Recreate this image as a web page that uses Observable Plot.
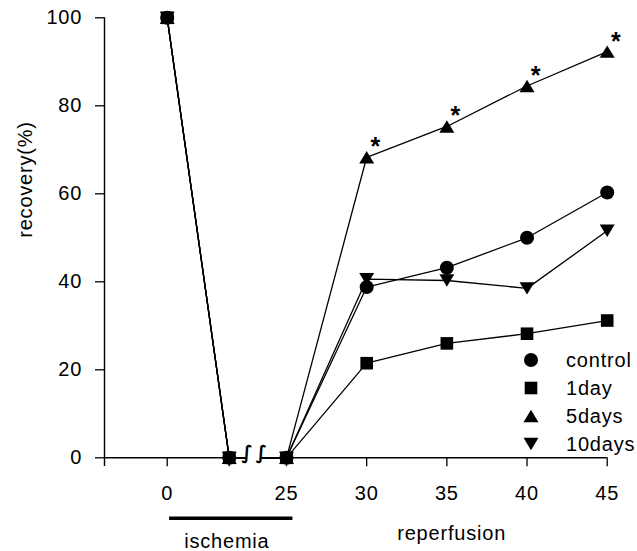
<!DOCTYPE html>
<html><head><meta charset="utf-8">
<script src="https://cdn.jsdelivr.net/npm/d3@7"></script>
<script src="https://cdn.jsdelivr.net/npm/@observablehq/plot@0.6"></script>
<style>
body{margin:0;background:#fff;}
#wrap{position:relative;width:637px;height:551px;font-family:"Liberation Sans",Arial,sans-serif;color:#000;}
#wrap svg text{letter-spacing:0.8px;}
#legend{position:absolute;left:520.5px;top:346px;}
.row{display:flex;align-items:center;height:28.1px;font-size:20px;letter-spacing:0.8px;}
.row svg{width:20px;height:20px;margin-right:25.5px;overflow:visible;}
</style></head>
<body><div id="wrap"></div>
<script>
// ---- data ----
const times = [0, 13, 25, 30, 35, 40, 45];
const xTickLabels = ["0", "", "25", "30", "35", "40", "45"];
const yTicks = [0, 20, 40, 60, 80, 100];
const seriesNames = ["control", "1day", "5days", "10days"];
const control = [100, 0, 0, 38.8, 43.2, 50, 60.3];
const oneDay = [100, 0, 0, 21.5, 26, 28.2, 31.2];
const fiveDays = [100, 0, 0, 68.3, 75.3, 84.5, 92.3];
const tenDays = [100, 0, 0, 40.6, 40.3, 38.5, 51.6];
const significantTimes = [30, 35, 40, 45];
const breakMarks = [16.8, 19.8];
const ischemiaSpan = [0.5, 25.4];
const ischemiaLabel = "ischemia";
const reperfusionLabel = "reperfusion";
const yLabel = "recovery(%)";

// ---- symbols ----
const rad = (size) => Math.sqrt(size / Math.PI);
const symbols = {
  control: {draw(ctx, size) { const r = rad(size); ctx.moveTo(r, 0); ctx.arc(0, 0, r, 0, 2 * Math.PI); }},
  "1day": {draw(ctx, size) { const h = rad(size) * 0.9; ctx.rect(-h, -h, 2 * h, 2 * h); }},
  "5days": {draw(ctx, size) { const r = rad(size), w = r * 1.07, h = r * 0.88; ctx.moveTo(0, -h); ctx.lineTo(w, h); ctx.lineTo(-w, h); ctx.closePath(); }},
  "10days": {draw(ctx, size) { const r = rad(size), w = r * 1.07, h = r * 0.88; ctx.moveTo(0, h); ctx.lineTo(w, -h); ctx.lineTo(-w, -h); ctx.closePath(); }}
};

const valuesBySeries = {control, "1day": oneDay, "5days": fiveDays, "10days": tenDays};
const rowsFor = (name) => times.map((t, i) => ({time: t, value: valuesBySeries[name][i], series: name}));

const xMin = -13.15;
const yAxisFloor = -2;
const R = 7;

const marks = [];
// axis lines
marks.push(Plot.ruleY([0], {x1: () => xMin, x2: () => 45, stroke: "black", strokeWidth: 1.4}));
marks.push(Plot.ruleX([xMin], {y1: () => yAxisFloor, y2: () => 100, stroke: "black", strokeWidth: 1.4}));
// series lines
for (const name of seriesNames) {
  marks.push(Plot.line(rowsFor(name), {x: "time", y: "value", stroke: "black", strokeWidth: 1.3}));
}
// axis break gap and marks
marks.push(Plot.ruleY([0], {x1: () => breakMarks[0], x2: () => breakMarks[1], stroke: "white", strokeWidth: 5}));
marks.push(Plot.text(breakMarks, {x: d => d, y: () => 0, text: () => "∫", fontFamily: "DejaVu Sans", fontSize: 19, fontWeight: "bold", lineAnchor: "middle", dy: -5, fill: "black"}));
// dots
for (const name of seriesNames) {
  marks.push(Plot.dot(rowsFor(name), {x: "time", y: "value", r: R, symbol: symbols[name], fill: "black", stroke: "none"}));
}
// asterisks
marks.push(Plot.text(rowsFor("5days").filter(d => significantTimes.includes(d.time)), {
  x: "time", y: "value", text: () => "*", dx: 9, dy: -2, lineAnchor: "bottom", fontSize: 25, fontWeight: "bold"
}));
// axes
marks.push(Plot.axisY({ticks: yTicks, tickSize: 9, tickPadding: 13.3, fontSize: 20, label: null, strokeWidth: 1.3}));
marks.push(Plot.axisX({ticks: times, tickFormat: d => xTickLabels[times.indexOf(d)], tickSize: 9, tickPadding: 18.7, fontSize: 20, label: null, strokeWidth: 1.3}));
// y label
marks.push(Plot.text([yLabel], {frameAnchor: "left", text: d => d, rotate: -90, dx: -79, fontSize: 20, lineAnchor: "middle"}));
// ischemia bar + labels
marks.push(Plot.ruleY([0], {x1: () => ischemiaSpan[0], x2: () => ischemiaSpan[1], dy: 60.4, stroke: "black", strokeWidth: 3.5}));
marks.push(Plot.text([ischemiaLabel], {x: () => (0 + 25) / 2, y: () => 0, text: d => d, dy: 83.9, fontSize: 20, lineAnchor: "middle"}));
marks.push(Plot.text([reperfusionLabel], {x: () => 35.3, y: () => 0, text: d => d, dy: 75.9, fontSize: 20, lineAnchor: "middle"}));

const chart = Plot.plot({
  width: 637,
  height: 551,
  marginLeft: 104,
  marginRight: 30.3,
  marginTop: 17.3,
  marginBottom: 93.7,
  style: {fontFamily: "Liberation Sans, Arial, sans-serif", background: "white", color: "black", overflow: "visible"},
  x: {type: "linear", domain: [xMin, 0, 25, 45], range: [104, 166.7, 286, 606.7]},
  y: {domain: [0, 100], range: [457.3, 17.3]},
  marks
});
const wrap = document.getElementById("wrap");
wrap.appendChild(chart);

// legend
const legend = document.createElement("div");
legend.id = "legend";
for (const name of seriesNames) {
  const row = document.createElement("div");
  row.className = "row";
  const p = d3.path();
  symbols[name].draw(p, R * R * Math.PI);
  row.innerHTML = `<svg viewBox="-10 -10 20 20"><path d="${p.toString()}" fill="black"/></svg><span>${name}</span>`;
  legend.appendChild(row);
}
wrap.appendChild(legend);
</script>
</body></html>
